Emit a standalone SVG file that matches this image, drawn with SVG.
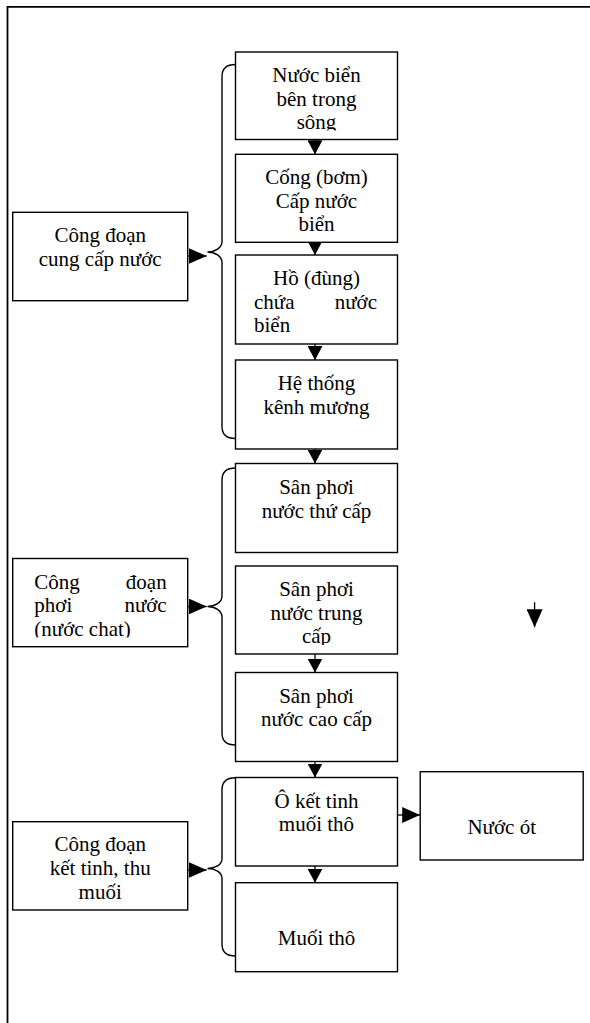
<svg xmlns="http://www.w3.org/2000/svg" width="590" height="1023" viewBox="0 0 590 1023">
<style>
.box{fill:#fff;stroke:#000;stroke-width:1.4}
.t{font-family:"Liberation Serif","Times New Roman","DejaVu Serif",serif;font-size:21px;fill:#000}
.c{text-anchor:middle}
.e{text-anchor:end}
.ln{fill:none;stroke:#000;stroke-width:1.3}
.br{fill:none;stroke:#000;stroke-width:1.4}
.frame{fill:none;stroke:#000;stroke-width:1.8}
</style>
<defs>
<marker id="ah" markerUnits="userSpaceOnUse" markerWidth="14" markerHeight="15" refX="14" refY="7.5" orient="auto" viewBox="0 0 14 15">
<path d="M0,0 L14,7.5 L0,15 z" fill="#000"/>
</marker>
<marker id="ahL" markerUnits="userSpaceOnUse" markerWidth="18" markerHeight="16" refX="18" refY="8" orient="auto" viewBox="0 0 18 16">
<path d="M0,0 L18,8 L0,16 z" fill="#000"/>
</marker>
<clipPath id="cp1"><rect x="235.5" y="52" width="162" height="78.5"/></clipPath>
<clipPath id="cp3"><rect x="235.5" y="255" width="162" height="79.5"/></clipPath>
<clipPath id="cp6"><rect x="235.5" y="566" width="162" height="79"/></clipPath>
<clipPath id="cpL2"><rect x="12.7" y="558.5" width="175" height="79"/></clipPath>
</defs>

<path class="frame" d="M7.5,1023 L7.5,6.8 L590,6.8"/>

<g id="connectors">
<line class="ln" x1="315" y1="139.5" x2="315" y2="154.3" marker-end="url(#ah)"/>
<line class="ln" x1="315" y1="242.3" x2="315" y2="255" marker-end="url(#ah)"/>
<line class="ln" x1="315" y1="344" x2="315" y2="360" marker-end="url(#ah)"/>
<line class="ln" x1="315" y1="449" x2="315" y2="463.5" marker-end="url(#ah)"/>
<line class="ln" x1="315" y1="654" x2="315" y2="672.5" marker-end="url(#ah)"/>
<line class="ln" x1="315" y1="761.5" x2="315" y2="777.5" marker-end="url(#ah)"/>
<line class="ln" x1="315" y1="866" x2="315" y2="882.7" marker-end="url(#ah)"/>
<line class="ln" x1="397.5" y1="815" x2="420.2" y2="815" marker-end="url(#ahL)"/>
<line class="ln" x1="534.6" y1="602.3" x2="534.6" y2="627.3" marker-end="url(#ahL)"/>
<line class="ln" x1="187.7" y1="256" x2="206.7" y2="256" marker-end="url(#ahL)"/>
<line class="ln" x1="187.7" y1="606.5" x2="206.7" y2="606.5" marker-end="url(#ahL)"/>
<line class="ln" x1="187.7" y1="870" x2="206.7" y2="870" marker-end="url(#ahL)"/>
<path class="br" d="M235.5,64.5 C226,64.5 222,68.5 222,76.5 L222,241.5 C222,248 215,252 207.5,252 C215,252 222,256 222,262.5 L222,426.5 C222,434.5 226,438.5 235.5,438.5"/>
<path class="br" d="M235.5,468 C226,468 222,472 222,480 L222,596 C222,602.5 215,606.5 207.5,606.5 C215,606.5 222,610.5 222,617 L222,733 C222,741 226,745 235.5,745"/>
<path class="br" d="M235.5,777.7 C226,777.7 222,781.7 222,789.7 L222,858.5 C222,865 215,868.5 207.5,868.5 C215,868.5 222,872 222,878.5 L222,944 C222,952 226,956 235.5,956"/>
</g>

<g id="n1">
<rect class="box" x="235.5" y="52" width="162" height="87.5"/>
<g clip-path="url(#cp1)">
<text class="t c" x="316.5" y="82">Nước biển</text>
<text class="t c" x="316.5" y="105.5">bên trong</text>
<text class="t c" x="316.5" y="129">sông</text>
</g>
</g>
<g id="n2">
<rect class="box" x="235.5" y="154.3" width="162" height="88"/>
<text class="t c" x="316.5" y="184">Cống (bơm)</text>
<text class="t c" x="316.5" y="207.5">Cấp nước</text>
<text class="t c" x="316.5" y="231">biển</text>
</g>
<g id="n3">
<rect class="box" x="235.5" y="255" width="162" height="89"/>
<g clip-path="url(#cp3)">
<text class="t c" x="316.5" y="285">Hồ (đùng)</text>
<text class="t" x="254" y="308.5">chứa</text>
<text class="t e" x="377" y="308.5">nước</text>
<text class="t" x="254" y="332">biển</text>
</g>
</g>
<g id="n4">
<rect class="box" x="235.5" y="360" width="162" height="89"/>
<text class="t c" x="316.5" y="390">Hệ thống</text>
<text class="t c" x="316.5" y="413.5">kênh mương</text>
</g>
<g id="n5">
<rect class="box" x="235.5" y="463.5" width="162" height="89"/>
<text class="t c" x="316.5" y="494">Sân phơi</text>
<text class="t c" x="316.5" y="517.5">nước thứ cấp</text>
</g>
<g id="n6">
<rect class="box" x="235.5" y="566" width="162" height="88"/>
<g clip-path="url(#cp6)">
<text class="t c" x="316.5" y="596">Sân phơi</text>
<text class="t c" x="316.5" y="619.5">nước trung</text>
<text class="t c" x="316.5" y="643">cấp</text>
</g>
</g>
<g id="n7">
<rect class="box" x="235.5" y="672.5" width="162" height="89"/>
<text class="t c" x="316.5" y="702.5">Sân phơi</text>
<text class="t c" x="316.5" y="726">nước cao cấp</text>
</g>
<g id="n8">
<rect class="box" x="235.5" y="777.5" width="162" height="88.5"/>
<text class="t c" x="316.5" y="807.5">Ô kết tinh</text>
<text class="t c" x="316.5" y="831">muối thô</text>
</g>
<g id="n9">
<rect class="box" x="235.5" y="882.7" width="162" height="89"/>
<text class="t c" x="316.5" y="945">Muối thô</text>
</g>
<g id="n10">
<rect class="box" x="420.2" y="771.7" width="163" height="88.3"/>
<text class="t c" x="501.7" y="833.5">Nước ót</text>
</g>
<g id="L1">
<rect class="box" x="12.7" y="212.3" width="175" height="88.4"/>
<text class="t c" x="100.2" y="242">Công đoạn</text>
<text class="t c" x="100.2" y="265.5">cung cấp nước</text>
</g>
<g id="L2">
<rect class="box" x="12.7" y="558.5" width="175" height="88.2"/>
<g clip-path="url(#cpL2)">
<text class="t" x="34.3" y="588.5">Công</text>
<text class="t e" x="166.7" y="588.5">đoạn</text>
<text class="t" x="34.3" y="612">phơi</text>
<text class="t e" x="166.7" y="612">nước</text>
<text class="t" x="34.3" y="635.5">(nước chat)</text>
</g>
</g>
<g id="L3">
<rect class="box" x="12.7" y="821.7" width="175" height="88.3"/>
<text class="t c" x="100.2" y="851">Công đoạn</text>
<text class="t c" x="100.2" y="875">kết tinh, thu</text>
<text class="t c" x="100.2" y="898.5">muối</text>
</g>
</svg>
